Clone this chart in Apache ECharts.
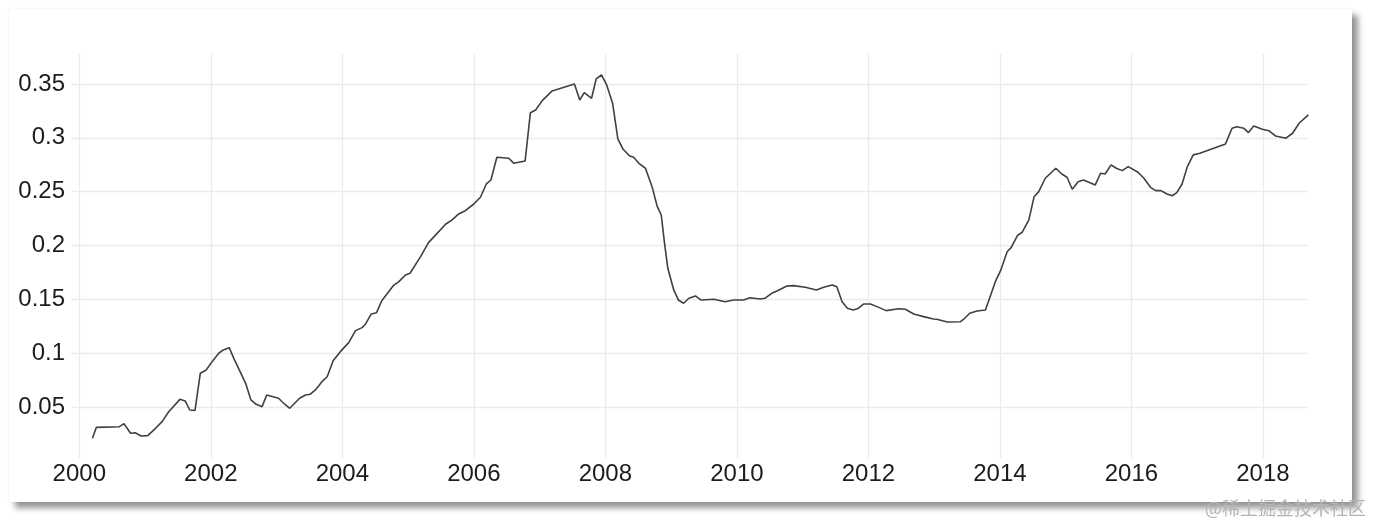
<!DOCTYPE html>
<html>
<head>
<meta charset="utf-8">
<script src="https://cdn.jsdelivr.net/npm/echarts@6/dist/echarts.min.js"></script>
<style>
  html, body { margin: 0; padding: 0; background: #ffffff; width: 1375px; height: 525px; overflow: hidden; }
  #card { position: absolute; left: 9px; top: 9px; width: 1343px; height: 493px; background: #ffffff;
          box-shadow: 6px 6px 6px rgba(0,0,0,0.42), 0 0 2px rgba(0,0,0,0.08); }
  #chart { position: absolute; left: 0; top: 0; width: 1375px; height: 525px; }
</style>
</head>
<body>
<div id="card"></div>
<div id="chart"></div>
<script>
// Decimal year of each observation
const years = [
  2000.20, 2000.26, 2000.61, 2000.68, 2000.78, 2000.85, 2000.94, 2001.04, 2001.16, 2001.26,
  2001.36, 2001.53, 2001.61, 2001.68, 2001.76, 2001.84, 2001.93, 2002.02, 2002.12, 2002.19,
  2002.28, 2002.35, 2002.53, 2002.61, 2002.69, 2002.78, 2002.85, 2003.03, 2003.12, 2003.20,
  2003.35, 2003.44, 2003.51, 2003.59, 2003.69, 2003.77, 2003.86, 2003.97, 2004.10, 2004.20,
  2004.30, 2004.35, 2004.44, 2004.52, 2004.60, 2004.78, 2004.86, 2004.96, 2005.03, 2005.19,
  2005.31, 2005.41, 2005.57, 2005.67, 2005.77, 2005.87, 2006.00, 2006.10, 2006.19, 2006.26,
  2006.35, 2006.53, 2006.61, 2006.78, 2006.86, 2006.94, 2007.04, 2007.19, 2007.53, 2007.61,
  2007.68, 2007.79, 2007.86, 2007.94, 2008.02, 2008.11, 2008.19, 2008.27, 2008.37, 2008.43,
  2008.52, 2008.61, 2008.71, 2008.79, 2008.85, 2008.90, 2008.95, 2009.04, 2009.11, 2009.19,
  2009.27, 2009.37, 2009.45, 2009.65, 2009.82, 2009.95, 2010.10, 2010.20, 2010.35, 2010.43,
  2010.53, 2010.61, 2010.76, 2010.86, 2011.04, 2011.21, 2011.32, 2011.45, 2011.52, 2011.60,
  2011.68, 2011.77, 2011.85, 2011.93, 2012.03, 2012.13, 2012.27, 2012.46, 2012.56, 2012.69,
  2012.84, 2012.99, 2013.04, 2013.20, 2013.40, 2013.45, 2013.54, 2013.65, 2013.78, 2013.86,
  2013.93, 2014.01, 2014.11, 2014.17, 2014.27, 2014.34, 2014.44, 2014.52, 2014.59, 2014.69,
  2014.85, 2014.94, 2015.02, 2015.10, 2015.19, 2015.27, 2015.45, 2015.53, 2015.60, 2015.69,
  2015.77, 2015.86, 2015.95, 2016.10, 2016.19, 2016.29, 2016.37, 2016.45, 2016.54, 2016.62,
  2016.69, 2016.77, 2016.85, 2016.94, 2017.04, 2017.43, 2017.53, 2017.60, 2017.71, 2017.78,
  2017.86, 2017.99, 2018.09, 2018.19, 2018.35, 2018.45, 2018.55, 2018.69
];
// Value at each observation
const values = [
  0.0209, 0.0311, 0.0317, 0.0345, 0.0256, 0.0261, 0.0231, 0.0234, 0.0302, 0.0364,
  0.0456, 0.0571, 0.0556, 0.0472, 0.0469, 0.0813, 0.0844, 0.0921, 0.0999, 0.1030,
  0.1051, 0.0952, 0.0720, 0.0565, 0.0525, 0.0503, 0.0611, 0.0581, 0.0528, 0.0488,
  0.0581, 0.0611, 0.0618, 0.0658, 0.0735, 0.0781, 0.0930, 0.1014, 0.1100, 0.1209,
  0.1237, 0.1268, 0.1364, 0.1376, 0.1487, 0.1630, 0.1664, 0.1726, 0.1742, 0.1896,
  0.2026, 0.2091, 0.2197, 0.2237, 0.2293, 0.2323, 0.2385, 0.2448, 0.2571, 0.2608,
  0.2819, 0.2810, 0.2763, 0.2785, 0.3233, 0.3258, 0.3345, 0.3435, 0.3500, 0.3351,
  0.3419, 0.3367, 0.3546, 0.3584, 0.3491, 0.3321, 0.2989, 0.2893, 0.2831, 0.2819,
  0.2757, 0.2717, 0.2546, 0.2360, 0.2283, 0.2020, 0.1788, 0.1587, 0.1494, 0.1463,
  0.1510, 0.1531, 0.1494, 0.1500, 0.1478, 0.1494, 0.1494, 0.1515, 0.1503, 0.1510,
  0.1556, 0.1577, 0.1624, 0.1627, 0.1612, 0.1587, 0.1612, 0.1633, 0.1617, 0.1478,
  0.1417, 0.1401, 0.1417, 0.1457, 0.1457, 0.1432, 0.1395, 0.1413, 0.1407, 0.1364,
  0.1339, 0.1317, 0.1315, 0.1289, 0.1292, 0.1315, 0.1370, 0.1392, 0.1401, 0.1540,
  0.1664, 0.1766, 0.1942, 0.1980, 0.2095, 0.2123, 0.2237, 0.2453, 0.2500, 0.2624,
  0.2717, 0.2664, 0.2633, 0.2522, 0.2592, 0.2608, 0.2562, 0.2671, 0.2664, 0.2748,
  0.2717, 0.2695, 0.2732, 0.2680, 0.2624, 0.2540, 0.2509, 0.2509, 0.2478, 0.2462,
  0.2490, 0.2571, 0.2732, 0.2841, 0.2856, 0.2943, 0.3088, 0.3103, 0.3088, 0.3048,
  0.3110, 0.3079, 0.3066, 0.3017, 0.2996, 0.3042, 0.3135, 0.3212
];
// Tick labels
const xTicks = [2000, 2002, 2004, 2006, 2008, 2010, 2012, 2014, 2016, 2018];
const yTicks = [0.05, 0.1, 0.15, 0.2, 0.25, 0.3, 0.35];
const yTickLabels = ['0.05', '0.1', '0.15', '0.2', '0.25', '0.3', '0.35'];
const watermark = '@稀土掘金技术社区';

const seriesData = years.map((y, i) => [y, values[i]]);
const FONT = '"Liberation Sans", Arial, Helvetica, sans-serif';

const chart = echarts.init(document.getElementById('chart'), null, { renderer: 'canvas' });
chart.setOption({
  animation: false,
  backgroundColor: 'transparent',
  grid: { left: 71, top: 54, width: 1237, height: 404, containLabel: false },
  xAxis: {
    type: 'value',
    min: 1999.874,
    max: 2018.685,
    axisLine: { show: false },
    axisTick: { show: false, customValues: xTicks },
    axisLabel: {
      customValues: xTicks,
      margin: 4,
      fontSize: 24,
      fontFamily: FONT,
      color: '#1c1c1c',
      formatter: v => String(Math.round(v))
    },
    splitLine: { show: true, lineStyle: { color: '#ebebeb', width: 1.3 } }
  },
  yAxis: {
    type: 'value',
    min: 0.00263,
    max: 0.3778,
    axisLine: { show: false },
    axisTick: { show: false, customValues: yTicks },
    axisLabel: {
      customValues: yTicks,
      margin: 6,
      fontSize: 24,
      fontFamily: FONT,
      color: '#1c1c1c',
      formatter: v => {
        const i = yTicks.findIndex(t => Math.abs(t - v) < 1e-9);
        return i >= 0 ? yTickLabels[i] : '';
      }
    },
    splitLine: { show: true, lineStyle: { color: '#ebebeb', width: 1.3 } }
  },
  series: [{
    type: 'line',
    data: seriesData,
    showSymbol: false,
    symbol: 'none',
    smooth: false,
    lineStyle: { color: '#404040', width: 1.6 },
    clip: true
  }],
  graphic: [{
    type: 'text',
    right: 9,
    top: 499,
    style: {
      text: watermark,
      fontSize: 18,
      fontFamily: '"Noto Sans CJK SC", sans-serif',
      fill: '#b4b4b4'
    },
    z: 100
  }]
});
</script>
</body>
</html>
